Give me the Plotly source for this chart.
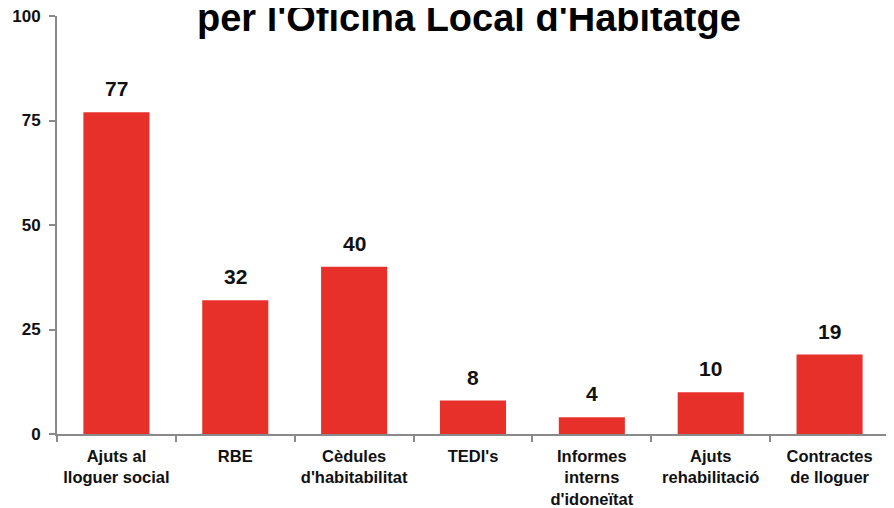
import plotly.graph_objects as go

categories = ["Ajuts al<br>lloguer social", "RBE", "Cèdules<br>d'habitabilitat", "TEDI's",
              "Informes<br>interns<br>d'idoneïtat", "Ajuts<br>rehabilitació", "Contractes<br>de lloguer"]
values = [77, 32, 40, 8, 4, 10, 19]
y_ticks = [0, 25, 50, 75, 100]
title_text = "per l'Oficina Local d'Habitatge"

FONT = "Liberation Sans, Arial, sans-serif"

fig = go.Figure()
fig.add_trace(go.Bar(x=categories, y=values, marker=dict(color="#E8302A", line=dict(width=0)),
                     width=0.556, hoverinfo="skip"))

for c, v in zip(categories, values):
    fig.add_annotation(x=c, y=v, text=f"<b>{v}</b>", showarrow=False, yanchor="bottom",
                       yshift=10, font=dict(family=FONT, size=21, color="#111"))

fig.add_annotation(x=0.495, xref="paper", y=1, yref="paper", yanchor="bottom", yshift=-25,
                   text=f"<b>{title_text}</b>", showarrow=False,
                   font=dict(family=FONT, size=38, color="#000"))

fig.update_layout(
    width=894, height=508,
    margin=dict(l=49, r=13, t=8, b=82, autoexpand=False),
    paper_bgcolor="white", plot_bgcolor="white",
    showlegend=False,
)

fig.update_yaxes(range=[0, 100], tickvals=y_ticks, ticktext=[f"<b>{t}</b>" for t in y_ticks],
                 showgrid=False, zeroline=False, showline=True, linecolor="#8a8a8a", linewidth=2,
                 ticks="outside", ticklen=6, tickcolor="#8a8a8a", tickwidth=1.5,
                 ticklabelstandoff=5, automargin=False, ticklabeloverflow="allow",
                 tickfont=dict(family=FONT, size=17, color="#111"))
fig.update_xaxes(showgrid=False, showline=True, linecolor="#8a8a8a", linewidth=2,
                 ticks="outside", tickson="boundaries", ticklen=6, tickcolor="#8a8a8a", tickwidth=1.5,
                 tickfont=dict(family=FONT, size=16.5, color="#111"),
                 ticktext=[f"<b>{c}</b>" for c in categories], tickvals=categories,
                 tickangle=0, ticklabelstandoff=6, automargin=False, ticklabeloverflow="allow")

fig.write_html("out.html")
